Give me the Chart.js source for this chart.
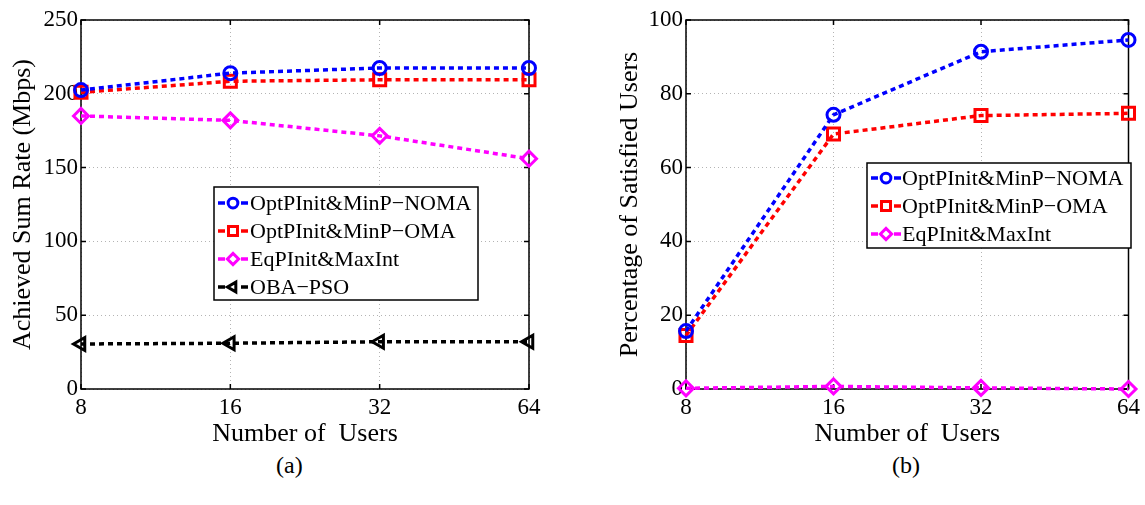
<!DOCTYPE html>
<html>
<head>
<meta charset="utf-8">
<script src="https://cdn.jsdelivr.net/npm/chart.js@4.4.0/dist/chart.umd.min.js"></script>
<style>
  body { margin: 0; background: #fff; width: 1145px; height: 505px; position: relative; overflow: hidden; font-family: 'Liberation Serif', serif; }
  canvas { position: absolute; top: 0; }
  #rateChart { left: 0; }
  #satChart { left: 590px; }
  .cap { position: absolute; top: 453px; font-size: 24px; line-height: 24px; color: #000; }
</style>
</head>
<body>
<canvas id="rateChart" width="560" height="450"></canvas>
<canvas id="satChart" width="555" height="450"></canvas>
<div class="cap" style="left:276px">(a)</div>
<div class="cap" style="left:892px">(b)</div>
<script>
// x categories (log2 spaced, so plain categories)
const users = ['8', '16', '32', '64'];

// (a) achieved sum rate, Mbps
const rateNoma = [202.5, 214, 217.5, 217.5];
const rateOma = [201, 208.5, 209.5, 209.5];
const rateEqp = [185, 182, 171.5, 156];
const rateObaPso = [30.5, 31, 32, 32];

// (b) percentage of satisfied users
const satNoma = [15.7, 74.3, 91.4, 94.6];
const satOma = [14.5, 69.1, 74.1, 74.7];
const satEqp = [0.2, 0.7, 0.3, 0];

const FONT = 'Liberation Serif';
Chart.defaults.font.family = FONT;
Chart.defaults.color = '#000';

const series = (label, data, color, style, radius, rotation) => ({
  label: label,
  data: data,
  borderColor: color,
  borderWidth: 3.5,
  borderDash: [5, 4],
  fill: false,
  tension: 0,
  clip: false,
  pointStyle: style,
  pointRadius: radius,
  pointHoverRadius: radius,
  pointRotation: rotation || 0,
  pointBorderWidth: 3,
  pointBorderColor: color,
  pointBackgroundColor: 'rgba(0,0,0,0)'
});

// box round the plot and small inward ticks on all four sides
const frame = {
  id: 'frame',
  beforeDatasetsDraw(chart) {
    const { ctx, chartArea: a, scales: { x, y } } = chart;
    ctx.save();
    ctx.strokeStyle = '#000';
    ctx.lineWidth = 1.5;
    ctx.beginPath();
    x.ticks.forEach((t, i) => {
      const px = x.getPixelForTick(i);
      ctx.moveTo(px, a.bottom); ctx.lineTo(px, a.bottom - 5);
      ctx.moveTo(px, a.top); ctx.lineTo(px, a.top + 5);
    });
    y.ticks.forEach((t, i) => {
      const py = y.getPixelForTick(i);
      ctx.moveTo(a.left, py); ctx.lineTo(a.left + 5, py);
      ctx.moveTo(a.right, py); ctx.lineTo(a.right - 5, py);
    });
    ctx.stroke();
    ctx.strokeRect(a.left, a.top, a.right - a.left, a.bottom - a.top);
    ctx.restore();
  }
};

// legend box drawn inside the plot, like the matlab one
const boxLegend = {
  id: 'boxLegend',
  afterDatasetsDraw(chart, args, o) {
    const ctx = chart.ctx;
    ctx.save();
    ctx.fillStyle = '#fff';
    ctx.fillRect(o.x, o.y, o.w, o.h);
    ctx.strokeStyle = '#000';
    ctx.lineWidth = 1.5;
    ctx.strokeRect(o.x, o.y, o.w, o.h);
    ctx.font = "22px 'Liberation Serif'";
    ctx.textBaseline = 'middle';
    chart.data.datasets.forEach((ds, i) => {
      const cy = o.y + o.first + i * o.row;
      const x0 = o.x + 4;
      ctx.strokeStyle = ds.borderColor;
      ctx.lineWidth = 3.5;
      ctx.beginPath();
      ctx.moveTo(x0, cy); ctx.lineTo(x0 + 7, cy);
      ctx.moveTo(x0 + 23, cy); ctx.lineTo(x0 + 30, cy);
      ctx.stroke();
      ctx.lineWidth = 3;
      ctx.fillStyle = 'rgba(0,0,0,0)';
      Chart.helpers.drawPoint(ctx, {
        pointStyle: ds.pointStyle,
        radius: ds.pointRadius * 0.75,
        rotation: ds.pointRotation,
        borderWidth: 3
      }, x0 + 15, cy);
      ctx.fillStyle = '#000';
      ctx.fillText(ds.label, o.x + o.text, cy + 1);
    });
    ctx.restore();
  }
};

const makeOptions = (yMin, yMax, step, yTitle, yWidth, titlePad, rightPad, legend) => ({
  responsive: false,
  animation: false,
  layout: { padding: { top: 20, right: rightPad, left: 0, bottom: 0 } },
  plugins: { legend: { display: false }, tooltip: { enabled: false }, boxLegend: legend },
  scales: {
    x: {
      type: 'category',
      offset: false,
      afterFit: (s) => { s.height = 61; },
      grid: { color: '#b4b4b4', lineWidth: 1, drawTicks: false },
      border: { display: false, dash: [1, 3] },
      ticks: { font: { family: FONT, size: 23 }, padding: 5, maxRotation: 0 },
      title: { display: true, text: 'Number of  Users', font: { family: FONT, size: 26 }, padding: { top: 0, bottom: 0 } }
    },
    y: {
      min: yMin,
      max: yMax,
      afterFit: (s) => { s.width = yWidth; },
      grid: { color: '#b4b4b4', lineWidth: 1, drawTicks: false },
      border: { display: false, dash: [1, 3] },
      ticks: { stepSize: step, font: { family: FONT, size: 23 }, padding: 3 },
      title: { display: true, text: yTitle, font: { family: FONT, size: 26 }, padding: { top: titlePad, bottom: 0 } }
    }
  }
});

new Chart(document.getElementById('rateChart'), {
  type: 'line',
  data: {
    labels: users,
    datasets: [
      series('OptPInit&MinP\u2212NOMA', rateNoma, '#0000ff', 'circle', 6.5),
      series('OptPInit&MinP\u2212OMA', rateOma, '#ff0000', 'rect', 8.5),
      series('EqPInit&MaxInt', rateEqp, '#ff00ff', 'rectRot', 7.5),
      series('OBA\u2212PSO', rateObaPso, '#000000', 'triangle', 7.5, -90)
    ]
  },
  options: makeOptions(0, 250, 50, 'Achieved Sum Rate (Mbps)', 81, 7.4, 31,
    { x: 214, y: 187, w: 264, h: 113, first: 16, row: 28, text: 36 }),
  plugins: [frame, boxLegend]
});

new Chart(document.getElementById('satChart'), {
  type: 'line',
  data: {
    labels: users,
    datasets: [
      series('OptPInit&MinP\u2212NOMA', satNoma, '#0000ff', 'circle', 6.5),
      series('OptPInit&MinP\u2212OMA', satOma, '#ff0000', 'rect', 8.5),
      series('EqPInit&MaxInt', satEqp, '#ff00ff', 'rectRot', 7.5)
    ]
  },
  options: makeOptions(0, 100, 20, 'Percentage of Satisfied Users', 96, 24.4, 12,
    { x: 277, y: 163, w: 264, h: 85, first: 15, row: 28, text: 35 }),
  plugins: [frame, boxLegend]
});
</script>
</body>
</html>
